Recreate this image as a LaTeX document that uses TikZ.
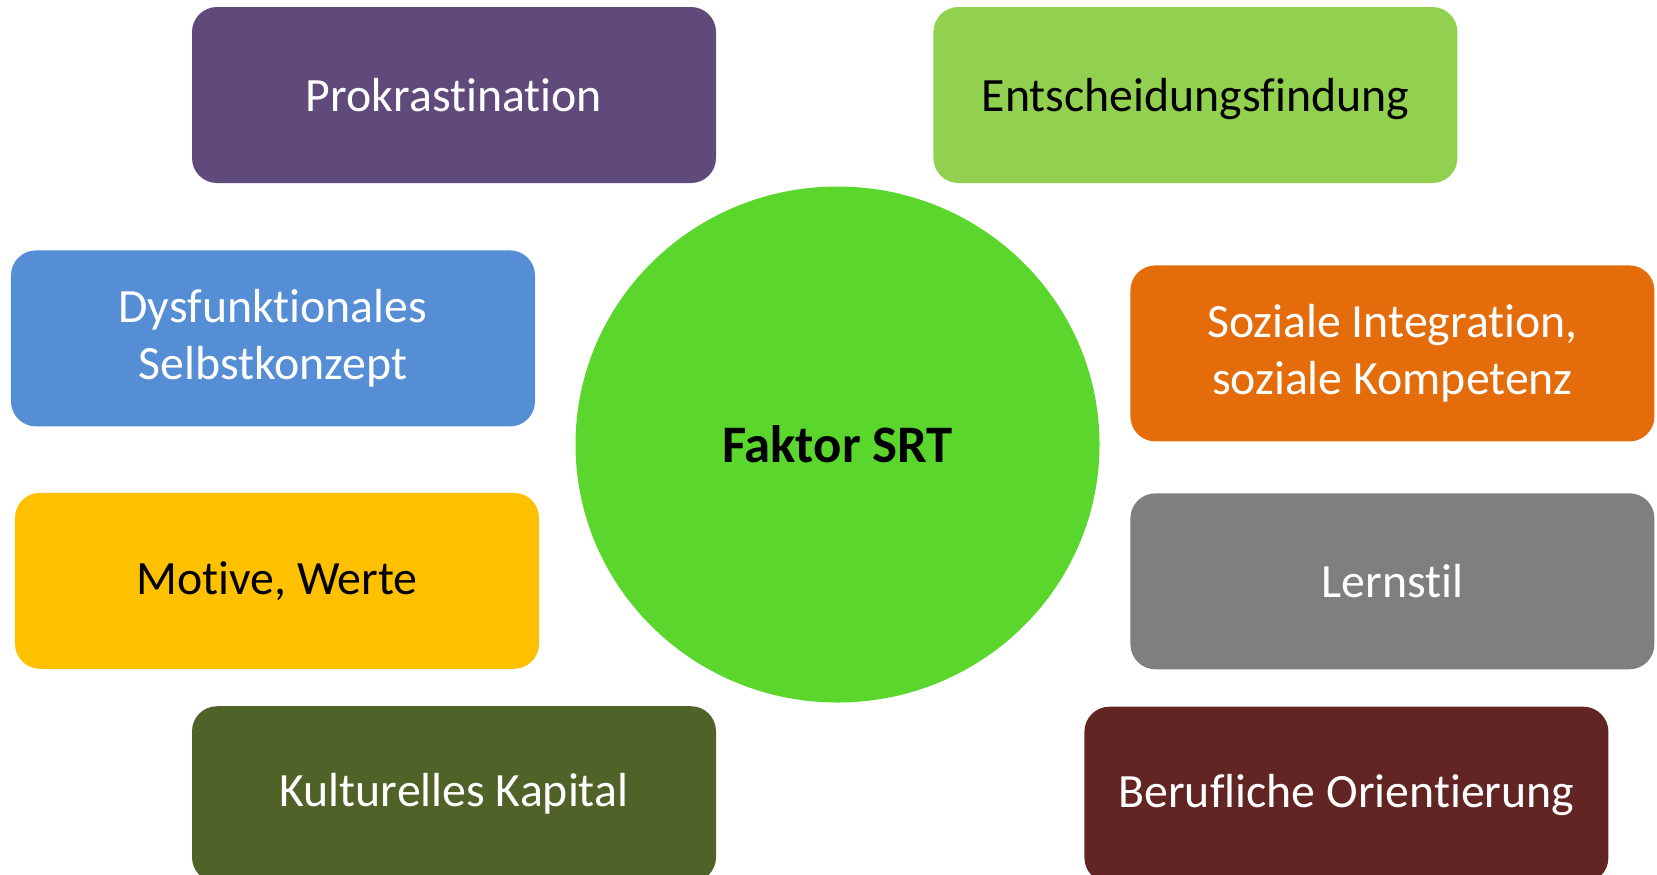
\documentclass[tikz,border=0pt]{standalone}
\usepackage{fontspec}
\setmainfont{Carlito}[Ligatures=NoCommon]
\usepackage{tikz}
\usetikzlibrary{positioning, shapes.geometric}

\definecolor{prokviolet}{HTML}{604A7B}
\definecolor{entgreen}{HTML}{92D050}
\definecolor{dysblue}{HTML}{558ED5}
\definecolor{sozorange}{HTML}{E46C0A}
\definecolor{motyellow}{HTML}{FFC000}
\definecolor{lerngray}{HTML}{7F7F7F}
\definecolor{kultolive}{HTML}{4F6228}
\definecolor{berufred}{HTML}{632523}
\definecolor{srtgreen}{HTML}{5BD62C}

\begin{document}
\begin{tikzpicture}[node distance=6mm,
	box/.style={rounded corners=2.5mm, minimum width=5.24cm, minimum height=1.76cm, inner sep=0pt, align=center, text=white, font=\fontsize{13.6}{16.3}\selectfont}]
	\useasboundingbox (0,0) rectangle (16.57,-8.74);
	\node[ellipse, fill=srtgreen, minimum width=5.24cm, minimum height=5.16cm, inner sep=0pt, font=\fontsize{15}{18}\selectfont\bfseries] (srt) at (8.375,-4.445) {Faktor SRT};
	\node[box, fill=prokviolet] (prok) at (4.54,-0.95) {Prokrastination};
	\node[box, fill=dysblue, below=.66cm of prok, xshift=-1.81cm] (dys) {Dysfunktionales\\Selbstkonzept};
	\node[box, fill=motyellow, text=black, below=.65cm of dys, xshift=.04cm] (mot) {Motive, Werte};
	\node[box, fill=kultolive, below=.36cm of mot, xshift=1.77cm] (kult) {Kulturelles Kapital};
	\node[box, fill=entgreen, text=black, right=2.16cm of prok, text depth=0pt] (ent) {Entscheidungsfindung};
	\node[box, fill=sozorange, below=.81cm of ent, xshift=1.97cm] (soz) {Soziale Integration,\\soziale Kompetenz};
	\node[box, fill=lerngray, below=.505cm of soz] (lern) {Lernstil};
	\node[box, fill=berufred, below=.36cm of lern, xshift=-.46cm] (beruf) {Berufliche Orientierung};
\end{tikzpicture}
\end{document}
